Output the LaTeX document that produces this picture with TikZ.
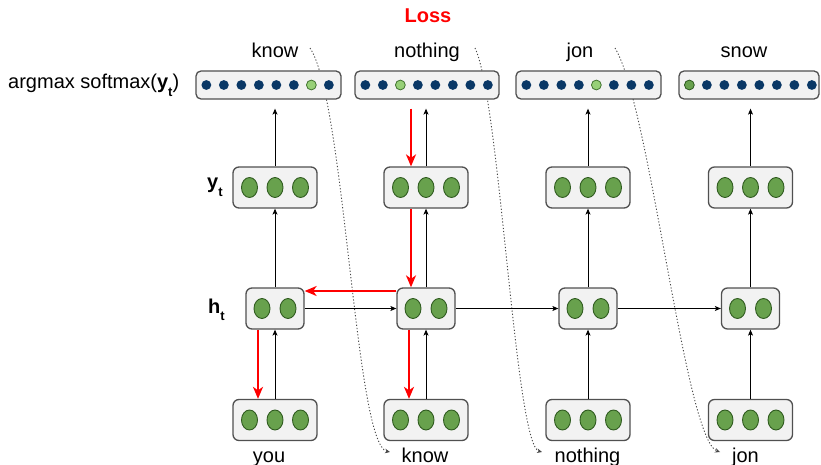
\documentclass[tikz,border=0pt]{standalone}
\usepackage{fontspec}
\setmainfont{Liberation Sans}
\usetikzlibrary{arrows.meta,calc}

\definecolor{cellfill}{RGB}{242,242,242}
\definecolor{celldraw}{RGB}{80,80,80}
\definecolor{navy}{RGB}{10,56,102}
\definecolor{unitgreen}{RGB}{104,161,77}
\definecolor{unitline}{RGB}{48,92,32}
\definecolor{palegreen}{RGB}{151,208,119}
\definecolor{paleline}{RGB}{70,120,50}
\definecolor{lossred}{RGB}{255,0,0}
\definecolor{linkgray}{RGB}{70,70,70}

% bold subscript t
\newcommand\subt{\raisebox{-7.5pt}{\fontsize{13}{13}\selectfont\bfseries t}}

\begin{document}
\begin{tikzpicture}[x=1pt,y=-1pt,
  box/.style={draw=celldraw, fill=cellfill, line width=1.3pt, rounded corners=6pt,
              inner sep=0pt, minimum height=41pt},
  smbox/.style={box, minimum height=28pt, rounded corners=5pt},
  word/.style={font=\fontsize{20}{24}\selectfont, anchor=base, inner sep=0pt},
  arr/.style={-{Stealth[length=6pt,width=5pt,inset=1.5pt]}, line width=0.9pt},
  backprop/.style={draw=lossred, line width=2pt, -{Stealth[length=12pt,width=10pt,inset=3.5pt]}},
  link/.style={draw=linkgray, line width=0.9pt, dash pattern=on 1.2pt off 2pt,
               -{Stealth[length=5pt,width=4.5pt]}},
  unit/.style={draw=unitline, fill=unitgreen, line width=0.9pt},
  onehot/.style={fill=navy},
  pick/.style={draw=paleline, fill=palegreen, line width=0.8pt},
  pickdark/.style={draw=unitline, fill=unitgreen, line width=0.8pt}]
\useasboundingbox (0,0) rectangle (821,465);

% ---- title and row labels
\node[word, font=\fontsize{20}{24}\selectfont\bfseries, text=lossred] (loss) at (428,23) {Loss};
\node[word, anchor=base west] (lblsm) at (8,89) {argmax softmax({\bfseries y}\subt)};
\node[word, anchor=base west, font=\fontsize{20}{24}\selectfont\bfseries] (lbly) at (207,189) {y\subt};
\node[word, anchor=base west, font=\fontsize{20}{24}\selectfont\bfseries] (lblh) at (208,313) {h\subt};

% ---- predicted words
\node[word] (o1) at (275,58) {know};
\node[word] (o2) at (427,58) {nothing};
\node[word] (o3) at (580,58) {jon};
\node[word] (o4) at (744,58) {snow};

% ---- input words
\node[word] (w1) at (269,462) {you};
\node[word] (w2) at (425,462) {know};
\node[word] (w3) at (587.5,462) {nothing};
\node[word] (w4) at (745.5,462) {jon};

% ---- prediction fed back as next input
\coordinate (f1a) at (310,48);  \coordinate (f1b) at (390,452);
\coordinate (f2a) at (475,48);  \coordinate (f2b) at (542,452);
\coordinate (f3a) at (615,48);  \coordinate (f3b) at (720,452);
\draw[link] (f1a) .. controls (345,100) and (355,445) .. (f1b);
\draw[link] (f2a) .. controls (500,100) and (515,445) .. (f2b);
\draw[link] (f3a) .. controls (650,105) and (685,440) .. (f3b);

% ---- softmax vectors
\node[smbox, minimum width=145pt] (s1) at (268.5,85) {};
\node[smbox, minimum width=144pt] (s2) at (427,85) {};
\node[smbox, minimum width=145pt] (s3) at (588.5,85) {};
\node[smbox, minimum width=140pt] (s4) at (749,85) {};
\foreach \s in {s1,s2,s3,s4}
  \foreach \k in {0,...,7}
    \fill[onehot] ($(\s.west)+(11+17.5*\k,0)$) circle[radius=4.9pt];
\filldraw[pick] ($(s1.west)+(11+17.5*6,0)$) circle[radius=4.9pt];
\filldraw[pick] ($(s2.west)+(11+17.5*2,0)$) circle[radius=4.9pt];
\filldraw[pick] ($(s3.west)+(11+17.5*4,0)$) circle[radius=4.9pt];
\filldraw[pickdark] ($(s4.west)+(11,0)$) circle[radius=4.9pt];

% ---- output layer
\node[box, minimum width=84pt] (y1) at (275,187.5) {};
\node[box, minimum width=84pt] (y2) at (426,187.5) {};
\node[box, minimum width=84pt] (y3) at (588,187.5) {};
\node[box, minimum width=84pt] (y4) at (750.5,187.5) {};
% ---- hidden layer
\node[box, minimum width=58pt] (h1) at (275,308.5) {};
\node[box, minimum width=58pt] (h2) at (426,308.5) {};
\node[box, minimum width=58pt] (h3) at (588,308.5) {};
\node[box, minimum width=58pt] (h4) at (750.5,308.5) {};
% ---- input layer
\node[box, minimum width=84pt] (x1) at (275,420) {};
\node[box, minimum width=84pt] (x2) at (426,420) {};
\node[box, minimum width=84pt] (x3) at (588,420) {};
\node[box, minimum width=84pt] (x4) at (750.5,420) {};

\foreach \c in {y1,y2,y3,y4,x1,x2,x3,x4}
  \foreach \d in {-25.5,0,25.5}
    \filldraw[unit] ($(\c)+(\d,0)$) ellipse[x radius=8pt, y radius=10pt];
\foreach \c in {h1,h2,h3,h4}
  \foreach \d in {-13,13}
    \filldraw[unit] ($(\c)+(\d,0)$) ellipse[x radius=8pt, y radius=10pt];

% ---- forward connections
\foreach \i in {1,2,3,4}{
  \draw[arr] (x\i.north) -- (h\i.south);
  \draw[arr] (h\i.north) -- (y\i.south);
  \coordinate (e\i) at ($(y\i.north |- s\i.south)+(0,9)$);
  \draw[arr] (y\i.north) -- (e\i);
}
\draw[arr] (h1.east) -- (h2.west);
\draw[arr] (h2.east) -- (h3.west);
\draw[arr] (h3.east) -- (h4.west);

% ---- backpropagation path
\coordinate (r0) at ($(y2.north)+(-15,0)$);
\coordinate (r1) at ($(r0 |- s2.south)+(0,9)$);
\draw[backprop] (r1) -- (r0);
\draw[backprop] ($(y2.south)+(-15,0)$) -- ($(h2.north)+(-15,0)$);
\draw[backprop] ($(h2.west)+(0,-17.5)$) -- ($(h1.east)+(0,-17.5)$);
\draw[backprop] ($(h1.south)+(-17,0)$) -- ($(x1.north)+(-17,0)$);
\draw[backprop] ($(h2.south)+(-17,0)$) -- ($(x2.north)+(-17,0)$);
\end{tikzpicture}
\end{document}
